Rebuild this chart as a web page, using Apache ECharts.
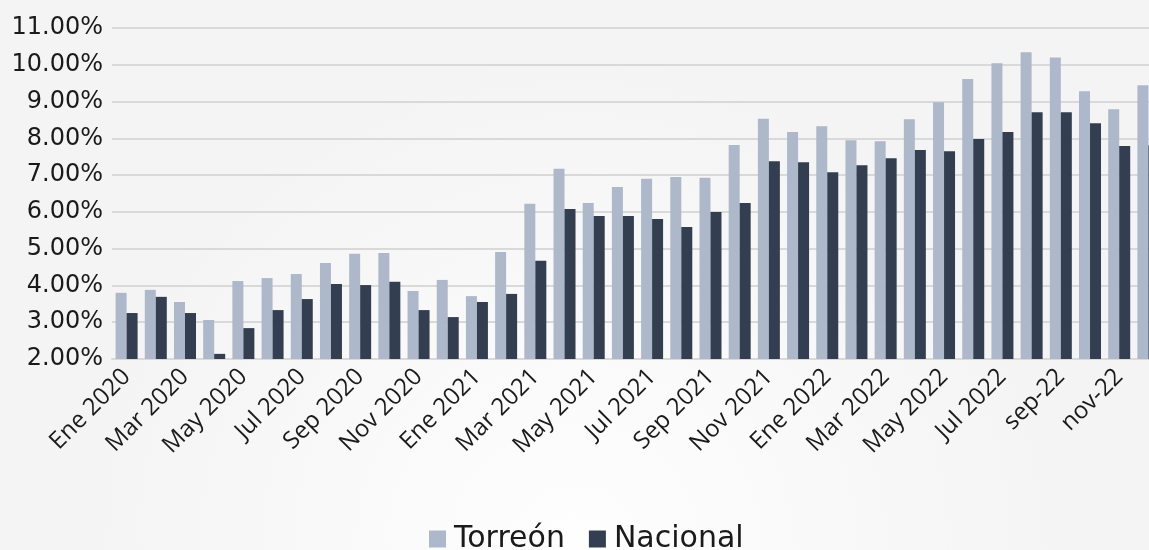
<!DOCTYPE html>
<html>
<head>
<meta charset="utf-8">
<script src="https://cdn.jsdelivr.net/npm/echarts@6/dist/echarts.min.js"></script>
<style>
  html, body { margin: 0; padding: 0; }
  #chart { width: 1149px; height: 550px; }
</style>
</head>
<body>
<div id="chart"></div>
<script>
  // meses ene 2020 - dic 2022
  const months = [
    'Ene 2020', 'Feb 2020', 'Mar 2020', 'Abr 2020', 'May 2020', 'Jun 2020',
    'Jul 2020', 'Ago 2020', 'Sep 2020', 'Oct 2020', 'Nov 2020', 'Dic 2020',
    'Ene 2021', 'Feb 2021', 'Mar 2021', 'Abr 2021', 'May 2021', 'Jun 2021',
    'Jul 2021', 'Ago 2021', 'Sep 2021', 'Oct 2021', 'Nov 2021', 'Dic 2021',
    'Ene 2022', 'Feb 2022', 'Mar 2022', 'Abr 2022', 'May 2022', 'Jun 2022',
    'Jul 2022', 'ago-22', 'sep-22', 'oct-22', 'nov-22', 'dic-22'
  ]

  const torreon = [
    3.80, 3.88, 3.55, 3.06, 4.12, 4.20, 4.31, 4.61, 4.86, 4.88, 3.85, 4.15,
    3.71, 4.91, 6.22, 7.17, 6.24, 6.68, 6.90, 6.95, 6.93, 7.82, 8.53, 8.17,
    8.33, 7.95, 7.92, 8.52, 8.98, 9.61, 10.04, 10.34, 10.20, 9.28, 8.79, 9.44
  ]

  const nacional = [
    3.25, 3.69, 3.25, 2.14, 2.84, 3.33, 3.63, 4.04, 4.01, 4.10, 3.33, 3.14,
    3.55, 3.77, 4.67, 6.08, 5.89, 5.89, 5.81, 5.59, 6.00, 6.24, 7.38, 7.35,
    7.08, 7.27, 7.46, 7.68, 7.65, 7.98, 8.17, 8.71, 8.71, 8.41, 7.79, 7.81
  ]

  const chart = echarts.init(document.getElementById('chart'), null, { renderer: 'canvas' })

  const option = {
    backgroundColor: {
      type: 'radial',
      x: 0.5,
      y: 1.0,
      r: 0.9,
      colorStops: [
        { offset: 0, color: '#fefefe' },
        { offset: 1, color: '#f4f4f4' }
      ]
    },
    animation: false,
    grid: {
      left: 112,
      top: 28,
      width: 1051,
      height: 331,
      outerBoundsMode: 'none'
    },
    legend: {
      top: 524,
      left: 429,
      padding: 0,
      itemWidth: 17,
      itemHeight: 17,
      itemGap: 24,
      icon: 'rect',
      textStyle: {
        fontFamily: 'DejaVu Sans',
        fontSize: 30,
        lineHeight: 30,
        color: '#1a1a1a',
        padding: [0, 0, 0, 3]
      },
      data: ['Torreón', 'Nacional']
    },
    xAxis: {
      type: 'category',
      data: months,
      axisLine: { lineStyle: { color: '#d9d9d9', width: 2 } },
      axisTick: { show: false },
      axisLabel: {
        interval: 1,
        rotate: 45,
        margin: 14,
        fontFamily: 'Open Sans',
        fontSize: 24,
        color: '#1a1a1a'
      }
    },
    yAxis: {
      type: 'value',
      min: 2,
      max: 11,
      interval: 1,
      axisLine: { show: false },
      axisTick: { show: false },
      splitLine: { lineStyle: { color: '#d9d9d9', width: 2 } },
      axisLabel: {
        margin: 9,
        fontFamily: 'DejaVu Sans',
        fontSize: 24,
        color: '#1a1a1a',
        formatter: function (v) { return v.toFixed(2) + '%' }
      }
    },
    series: [
      {
        name: 'Torreón',
        type: 'bar',
        data: torreon,
        barWidth: 11,
        barGap: '0%',
        itemStyle: { color: '#adb9ca' }
      },
      {
        name: 'Nacional',
        type: 'bar',
        data: nacional,
        barWidth: 11,
        itemStyle: { color: '#333f50' }
      }
    ]
  }

  chart.setOption(option)
</script>
</body>
</html>
